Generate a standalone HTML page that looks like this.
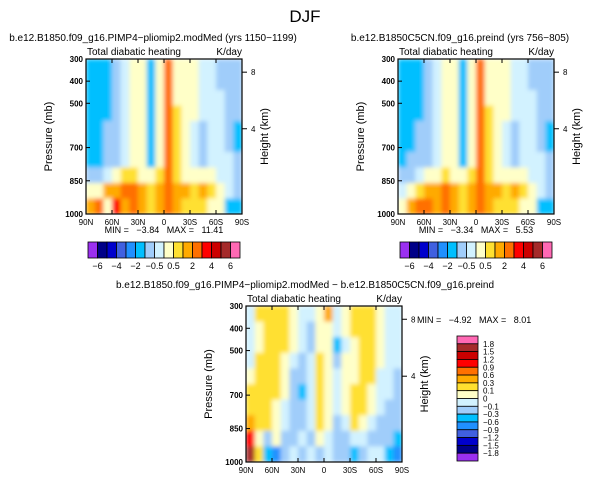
<!DOCTYPE html>
<html><head><meta charset="utf-8"><style>
body{margin:0;background:#fff}
svg text{font-family:"Liberation Sans",sans-serif;fill:#000;white-space:pre}
</style></head><body>
<svg id="s" width="611" height="481" xmlns="http://www.w3.org/2000/svg">
<defs><filter id="bl" x="0" y="0" width="1" height="1"><feGaussianBlur stdDeviation="2.2"/></filter></defs>
<text x="305" y="22" font-size="17" text-anchor="middle" fill="#444">DJF</text>
</svg>
<script>
const latLabels=["90N","60N","30N","0","30S","60S","90S"];
const presTicks=[300,400,500,700,850,1000];
const hgtTicks=[8,4];
const hgtFrac=[0.085,0.45];
const levels1=[-6,-5,-4,-3,-2,-1,-0.5,0,0.5,1,2,3,4,5,6];
const levelLabels1=["-6","-4","-2","-0.5","0.5","2","4","6"];
const levels3=[-1.8,-1.5,-1.2,-0.9,-0.6,-0.3,-0.1,0,0.1,0.3,0.6,0.9,1.2,1.5,1.8];
const levelLabels3=["1.8","1.5","1.2","0.9","0.6","0.3","0.1","0","-0.1","-0.3","-0.6","-0.9","-1.2","-1.5","-1.8"];
const colors=["#9b30f0","#000088","#0000cc","#4060e0","#2090ff","#00bfff","#a0cdfa","#d2f2ff","#ffffc8","#ffe030","#ffaa00","#ff7000","#ff0000","#cc0000","#a52a2a","#ff69b4"];
const field1=[
[-1.5,-1.5,-1.5,-0.7,-0.3,0.2,0.2,-1.5,0.3,2.5,0.3,0.2,0.2,-0.3,-0.3,-0.7,-0.7,-0.7],
[-1.5,-1.5,-1.5,-0.7,-0.3,0.2,0.2,-1.5,0.3,2.5,0.3,0.2,0.2,-0.3,-0.3,-0.7,-0.7,-0.7],
[-1.5,-1.5,-1.5,-0.7,-0.3,0.2,0.2,-1.5,0.3,2.5,0.3,0.2,0.2,-0.3,-0.3,-0.3,-0.7,-0.7],
[-1.5,-1.5,-1.5,-0.7,-0.3,0.2,0.2,-1.5,0.3,2.5,0.7,0.2,0.2,-0.3,-0.3,-0.3,-0.7,-0.7],
[-1.5,-1.5,-0.7,-0.7,-0.3,0.2,0.2,-1.5,0.3,2.5,0.7,0.2,-0.3,-0.7,-0.3,-0.3,-0.7,-1.5],
[-1.5,-1.5,-0.7,-0.7,-0.3,0.2,0.2,-1.5,0.3,2.5,0.7,0.2,-0.3,-0.7,-0.3,-0.3,-0.7,-1.5],
[-1.5,-1.5,-0.7,-0.7,-0.3,0.2,0.2,-1.5,0.3,2.5,0.7,0.2,-0.3,-0.7,-0.3,-0.3,-0.3,-0.7],
[-0.7,-0.7,-0.3,0.3,0.7,0.7,0.3,0.2,0.7,2.5,0.7,0.3,0.3,0.3,0.2,-0.3,-0.3,-0.7],
[0.3,0.3,1.5,1.5,2.5,2.5,1.5,0.7,1.5,2.5,1.5,1.5,0.7,1.5,0.7,0.3,-0.3,-0.7],
[1.5,2.5,0.3,3.5,1.5,2.5,1.5,0.7,1.5,2.5,1.5,0.7,0.7,0.7,0.2,0.2,-1.5,-1.5]];
const field2=[
[-1.5,-1.5,-1.5,-0.7,-0.3,0.2,0.2,-1.5,0.3,2.5,0.3,0.2,0.2,-0.3,-0.3,-0.7,-0.7,-0.7],
[-1.5,-1.5,-1.5,-0.7,-0.3,0.2,0.2,-1.5,0.3,2.5,0.3,0.2,0.2,-0.3,-0.3,-0.7,-0.7,-0.7],
[-1.5,-1.5,-1.5,-0.7,-0.3,0.2,0.2,-1.5,0.3,2.5,0.3,0.2,0.2,-0.3,-0.3,-0.3,-0.7,-0.7],
[-1.5,-1.5,-1.5,-0.7,-0.3,0.2,0.2,-1.5,0.3,2.5,0.7,0.2,0.2,-0.3,-0.3,-0.3,-0.7,-0.7],
[-1.5,-1.5,-0.7,-0.7,-0.3,0.2,0.2,-1.5,0.3,2.5,0.7,0.2,-0.3,-0.7,-0.3,-0.3,-0.7,-1.5],
[-1.5,-1.5,-0.7,-0.7,-0.3,0.2,0.2,-1.5,0.3,2.5,0.7,0.2,-0.3,-0.7,-0.3,-0.3,-0.7,-1.5],
[-1.5,-0.7,-0.7,-0.7,-0.3,0.2,0.2,-1.5,0.3,2.5,0.7,0.2,-0.3,-0.7,-0.3,-0.3,-0.3,-0.7],
[-0.7,-0.7,-0.3,0.2,0.3,0.7,0.3,0.2,0.7,2.5,0.7,0.3,0.3,0.3,0.2,-0.3,-0.3,-0.7],
[-0.3,0.3,0.7,1.5,1.5,2.5,1.5,0.7,1.5,2.5,1.5,1.5,0.7,1.5,0.7,0.3,-0.3,-0.7],
[0.3,1.5,2.5,2.5,1.5,2.5,1.5,0.7,1.5,2.5,1.5,0.7,0.7,0.7,0.2,0.2,-1.5,-1.5]];
const field3=[
[-0.05,0.2,0.2,0.2,0.2,0.05,-0.05,-0.05,0.05,0.4,-0.05,0.05,0.2,0.2,0.2,0.05,-0.05,-0.05],
[-0.05,0.05,0.2,0.2,0.2,0.05,-0.05,-0.2,0.05,0.05,-0.05,0.05,0.2,0.2,0.2,0.05,-0.05,-0.05],
[-0.05,0.05,0.2,0.2,0.2,0.05,-0.05,-0.2,0.05,0.05,-0.4,-0.05,0.05,0.2,0.2,0.05,-0.05,-0.05],
[-0.05,0.2,0.2,0.2,0.05,-0.05,-0.2,-0.05,0.2,0.05,-0.2,0.05,0.05,0.2,0.2,0.05,-0.05,-0.05],
[0.05,0.2,0.2,0.2,0.05,-0.2,-0.2,-0.05,0.2,0.05,-0.05,0.05,0.05,0.2,0.2,-0.05,-0.05,-0.2],
[0.2,0.2,0.2,0.2,0.05,-0.2,-0.4,-0.05,0.2,0.05,-0.05,0.05,0.2,0.2,0.05,-0.05,-0.05,-0.2],
[0.2,0.2,0.2,0.05,-0.05,-0.2,-0.2,-0.05,0.2,0.05,-0.05,0.05,0.2,0.2,0.05,-0.05,-0.2,-0.2],
[0.4,0.2,0.2,0.05,-0.05,-0.2,-0.2,-0.05,0.2,0.05,-0.2,-0.05,0.2,0.05,-0.05,-0.2,-0.2,-0.2],
[0.9,0.05,-0.2,0.05,-0.2,-0.2,-0.05,-0.2,0.05,-0.05,-0.2,-0.2,-0.05,-0.05,-0.2,-0.2,-0.2,-0.4],
[1.6,0.2,-0.4,-0.7,-0.2,-0.05,-0.2,-0.05,-0.2,-0.05,-0.2,-0.2,-0.4,-0.2,-0.05,-0.05,-0.4,-0.7]];

const svg=document.getElementById('s');
const NS="http://www.w3.org/2000/svg";
function mk(tag,attrs,parent){const e=document.createElementNS(NS,tag);for(const k in attrs)e.setAttribute(k,attrs[k]);(parent||svg).appendChild(e);return e;}
function txt(x,y,s,size,anchor,name,extra){const t=mk('text',Object.assign({x:x,y:y,'font-size':size,'text-anchor':anchor||'start'},extra||{}));t.textContent=s;


return t;}
function colorFor(v,lv){let i=0;while(i<lv.length&&v>=lv[i])i++;return colors[i];}

function panel(px,py,w,h,field,lv,pfx,title,tx){
  const g=mk('g',{});
  
  
  const cells=mk('g',{filter:'url(#bl)'},g);
  const xs=c=>px+c*w/field[0].length;
  const ys=r=>py+r*h/field.length;
  field.forEach((row,r)=>row.forEach((v,c)=>{
    const rc=mk('rect',{x:xs(c),y:ys(r),width:w/row.length+0.5,height:h/field.length+0.5,fill:colorFor(v,lv)},cells);
    
    
  }));
  const fr=mk('rect',{x:px,y:py,width:w,height:h,fill:'none',stroke:'#000','stroke-width':1.2},g);
  
  
  const py2=p=>py+(p-300)/700*h;
  presTicks.forEach(p=>{mk('line',{x1:px,x2:px+4,y1:py2(p),y2:py2(p),stroke:'#000'},g);
    txt(px-3,py2(p)+3,String(p),8,'end',pfx+'-y-tick-label',{'font-weight':'bold'});});
  latLabels.forEach((l,i)=>{const x=px+i*w/6;mk('line',{x1:x,x2:x,y1:py+h,y2:py+h-4,stroke:'#000'},g);mk('line',{x1:x,x2:x,y1:py,y2:py+4,stroke:'#000'},g);
    txt(x,py+h+11,l,8,'middle',pfx+'-x-tick-label');});
  hgtTicks.forEach((hv,i)=>{const y=py+hgtFrac[i]*h;mk('line',{x1:px+w,x2:px+w+5,y1:y,y2:y,stroke:'#000'},g);
    txt(px+w+9,y+3,String(hv),8,'start',pfx+'-height-tick-label');});
  txt(px-34,py+h/2,'Pressure (mb)',11,'middle',pfx+'-y-axis-title',{transform:`rotate(-90 ${px-34} ${py+h/2})`});
  txt(px+w+26,py+h/2,'Height (km)',11,'middle',pfx+'-y2-axis-title',{transform:`rotate(-90 ${px+w+26} ${py+h/2})`});
  txt(px+1,py-4,'Total diabatic heating',10,'start',pfx+'-variable-label');
  txt(px+w,py-4,'K/day',10,'end',pfx+'-units-label');
  txt(tx,py-18,title,10,'middle',pfx+'-title');
}
panel(86,59,156,155,field1,levels1,'left','b.e12.B1850.f09_g16.PIMP4\u2212pliomip2.modMed (yrs 1150\u22121199)',153);
panel(398,59,156,155,field2,levels1,'right','b.e12.B1850C5CN.f09_g16.preind (yrs 756\u2212805)',460);
panel(246,306,156,156,field3,levels3,'diff','b.e12.B1850.f09_g16.PIMP4\u2212pliomip2.modMed \u2212 b.e12.B1850C5CN.f09_g16.preind',305);
txt(164,233,'MIN =   \u22123.84   MAX =   11.41',9,'middle','left-min-max');
txt(476,233,'MIN =   \u22123.34   MAX =   5.53',9,'middle','right-min-max');
txt(417,323,'MIN =   \u22124.92   MAX =   8.01',9,'start','diff-min-max');

function hbar(x0,y0,name){
  const bw=152/colors.length;
  colors.forEach((c,i)=>{const r=mk('rect',{x:x0+i*bw,y:y0,width:bw,height:16,fill:c,stroke:'#000','stroke-width':0.8});
    
    });
  levelLabels1.forEach((l,i)=>txt(x0+(2*i+1)*bw,y0+27,l.replace('-','\u2212'),9,'middle',name+'-label'));
}
hbar(88,242,'left-colorbar');
hbar(400,242,'right-colorbar');
const vb=125/colors.length;
colors.slice().reverse().forEach((c,i)=>{const r=mk('rect',{x:457,y:336+i*vb,width:21,height:vb,fill:c,stroke:'#000','stroke-width':0.8});
  
  });
levelLabels3.forEach((l,i)=>txt(483,336+(i+1)*vb+3,l.replace('-','\u2212'),8,'start','diff-colorbar-label'));
</script>
</body></html>
